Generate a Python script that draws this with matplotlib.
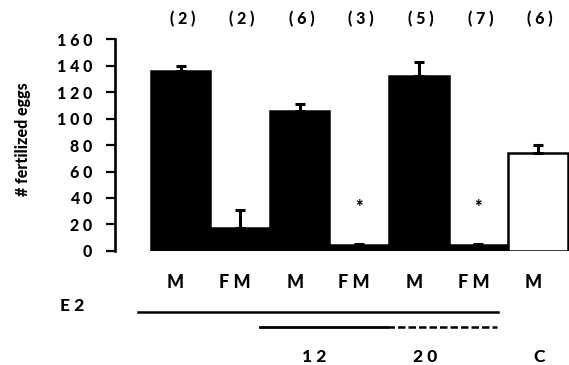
import matplotlib
matplotlib.use("Agg")
import matplotlib.pyplot as plt
import numpy as np

categories = ["M", "FM", "M", "FM", "M", "FM", "M"]
values = [136, 17, 105.5, 4, 132, 4, 74]
errors = [4, 14, 5.5, 1, 11, 1, 6]
n_labels = ["(2)", "(2)", "(6)", "(3)", "(5)", "(7)", "(6)"]
bar_colors = ["black", "black", "black", "black", "black", "black", "white"]
star_bars = [3, 5]
yticks = [0, 20, 40, 60, 80, 100, 120, 140, 160]
group_labels = ["12", "20", "C"]

def spaced(s):
    return " ".join(list(s))

plt.rcParams['font.family'] = ['Lato', 'Liberation Sans', 'DejaVu Sans']
plt.rcParams['font.weight'] = 'black'
WT = 'black'

W, H = 569, 365
fig = plt.figure(figsize=(W / 100, H / 100), dpi=100)
ax = fig.add_axes([115 / W, (H - 250.7) / H, (W - 115) / W, (250.7 - 39.5) / H])

x = np.arange(len(categories))
ax.bar(x, values, width=1.0, color=bar_colors, edgecolor="black", linewidth=1.8, zorder=2)
ax.errorbar(x, values, yerr=[np.zeros(len(values)), errors], fmt="none",
            ecolor="black", elinewidth=2.2, capsize=3.5, capthick=2.2, zorder=3)

ax.set_xlim(-1.10, 6.52)
ax.set_ylim(0, 160)
for s in ["top", "right", "bottom"]:
    ax.spines[s].set_visible(False)
ax.spines["left"].set_linewidth(1.9)
ax.set_yticks(yticks)
ax.set_yticklabels([spaced(str(t)) for t in yticks], fontsize=11.5, fontweight=WT)
ax.tick_params(axis="y", direction="out", length=6.5, width=1.6, pad=10)
ax.set_xticks([])

# star markers
for i in star_bars:
    ax.text(i, 33, "*", ha="center", va="center", fontsize=13, fontweight=WT)

# n labels above
for i, lab in enumerate(n_labels):
    ax.annotate(spaced(lab), xy=(i, 1), xycoords=("data", "axes fraction"),
                xytext=(2, 20.5), textcoords="offset pixels",
                ha="center", va="center", fontsize=11.5, fontweight=WT)

# category labels below
for i, lab in enumerate(categories):
    ax.annotate(spaced(lab), xy=(i, 0), xycoords=("data", "axes fraction"),
                xytext=(-5, -32), textcoords="offset pixels",
                ha="center", va="center", fontsize=13, fontweight=WT)

# y label
fig.text(23 / W, (H - 139) / H, "# fertilized eggs", rotation=90, ha="center",
         va="center", fontsize=11.5, fontweight=WT)

# treatment lines
def fy(py):
    return (H - py) / H
def fx(px):
    return px / W

fig.text(fx(72), fy(306), spaced("E2"), ha="center", va="center", fontsize=12.5, fontweight=WT)
fig.add_artist(plt.Line2D([fx(138), fx(498)], [fy(312), fy(312)], color="black", lw=1.8))
fig.add_artist(plt.Line2D([fx(260), fx(387)], [fy(327), fy(327)], color="black", lw=2.0))
fig.add_artist(plt.Line2D([fx(387), fx(497)], [fy(327), fy(327)], color="black", lw=1.8,
                          linestyle=(0, (3, 1.2))))

for px, lab in zip([314, 425, 539], group_labels):
    fig.text(fx(px), fy(357), spaced(lab), ha="center", va="center", fontsize=12.5, fontweight=WT)

fig.savefig("out.png", dpi=100)
